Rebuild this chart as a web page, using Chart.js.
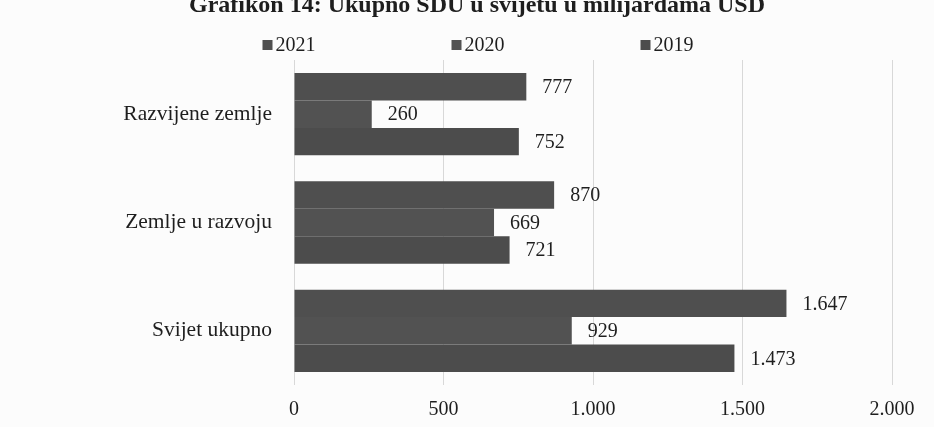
<!DOCTYPE html>
<html>
<head>
<meta charset="utf-8">
<script src="https://cdn.jsdelivr.net/npm/chart.js@4"></script>
<style>
  html, body { margin: 0; padding: 0; background: #fcfcfc; overflow: hidden; }
  #wrap { position: absolute; left: 0; top: -14px; width: 934px; height: 441px; }
</style>
</head>
<body>
<div id="wrap"><canvas id="c"></canvas></div>
<script>
const titleText = 'Grafikon 14: Ukupno SDU u svijetu u milijardama USD';
const categories = ['Razvijene zemlje', 'Zemlje u razvoju', 'Svijet ukupno'];
const seriesNames = ['2021', '2020', '2019'];
const values2021 = [777, 870, 1647];
const values2020 = [260, 669, 929];
const values2019 = [752, 721, 1473];
const xTicks = [0, 500, 1000, 1500, 2000];

const FONT = '"Liberation Serif", "Times New Roman", serif';
const TEXT = '#1e1e1e';
const BAR = '#4f4f4f';

function fmt(v) {
  return String(v).replace(/\B(?=(\d{3})+(?!\d))/g, '.');
}

const decorations = {
  id: 'decorations',
  afterDatasetsDraw(chart) {
    const ctx = chart.ctx;
    ctx.save();
    ctx.font = '20px ' + FONT;
    ctx.fillStyle = TEXT;
    ctx.textAlign = 'left';
    ctx.textBaseline = 'middle';
    chart.data.datasets.forEach((ds, i) => {
      const meta = chart.getDatasetMeta(i);
      meta.data.forEach((bar, j) => {
        ctx.fillText(fmt(ds.data[j]), bar.x + 16, bar.y + 1);
      });
    });
    ctx.restore();
  },
  afterDraw(chart) {
    const ctx = chart.ctx;
    ctx.save();
    // title (top partly cut off, as in the scan)
    ctx.font = 'bold 24px ' + FONT;
    ctx.fillStyle = TEXT;
    ctx.textAlign = 'center';
    ctx.textBaseline = 'alphabetic';
    ctx.fillText(titleText, 477, 26);
    // legend
    ctx.font = '20px ' + FONT;
    ctx.textAlign = 'left';
    ctx.textBaseline = 'middle';
    const box = 10, gap = 3, spacing = 136;
    const items = chart.data.datasets.map(ds => ({
      text: ds.label, color: ds.backgroundColor,
      w: box + gap + ctx.measureText(ds.label).width
    }));
    const total = items.reduce((s, it) => s + it.w, 0) + spacing * (items.length - 1);
    let x = 478 - total / 2;
    const y = 59;
    items.forEach(it => {
      ctx.fillStyle = it.color;
      ctx.fillRect(x, y - 5, box, box);
      ctx.fillStyle = TEXT;
      ctx.fillText(it.text, x + box + gap, y + 1);
      x += it.w + spacing;
    });
    ctx.restore();
  }
};

new Chart(document.getElementById('c'), {
  type: 'bar',
  data: {
    labels: categories,
    datasets: [
      { label: seriesNames[0], data: values2021, backgroundColor: BAR },
      { label: seriesNames[1], data: values2020, backgroundColor: '#525252' },
      { label: seriesNames[2], data: values2019, backgroundColor: '#4c4c4c' }
    ]
  },
  options: {
    indexAxis: 'y',
    responsive: true,
    maintainAspectRatio: false,
    animation: false,
    layout: { padding: { top: 74, right: 42, bottom: 5, left: 0 } },
    datasets: { bar: { categoryPercentage: 0.76, barPercentage: 1.0, borderWidth: 0 } },
    plugins: {
      legend: { display: false },
      title: { display: false },
      tooltip: { enabled: false }
    },
    scales: {
      x: {
        min: 0, max: 2000,
        afterBuildTicks(scale) { scale.ticks = xTicks.map(v => ({ value: v })); },
        afterFit(scale) { scale.height = 37; },
        grid: { color: '#d8d8d8', lineWidth: 1, drawTicks: false },
        border: { display: false },
        ticks: {
          padding: 13,
          color: TEXT,
          font: { family: FONT, size: 20 },
          callback: v => fmt(v)
        }
      },
      y: {
        afterFit(scale) { scale.width = 294; },
        grid: { display: false, drawTicks: false },
        border: { display: false },
        ticks: {
          padding: 22,
          color: TEXT,
          font: { family: FONT, size: 21.5 }
        }
      }
    }
  },
  plugins: [decorations]
});
</script>
</body>
</html>
